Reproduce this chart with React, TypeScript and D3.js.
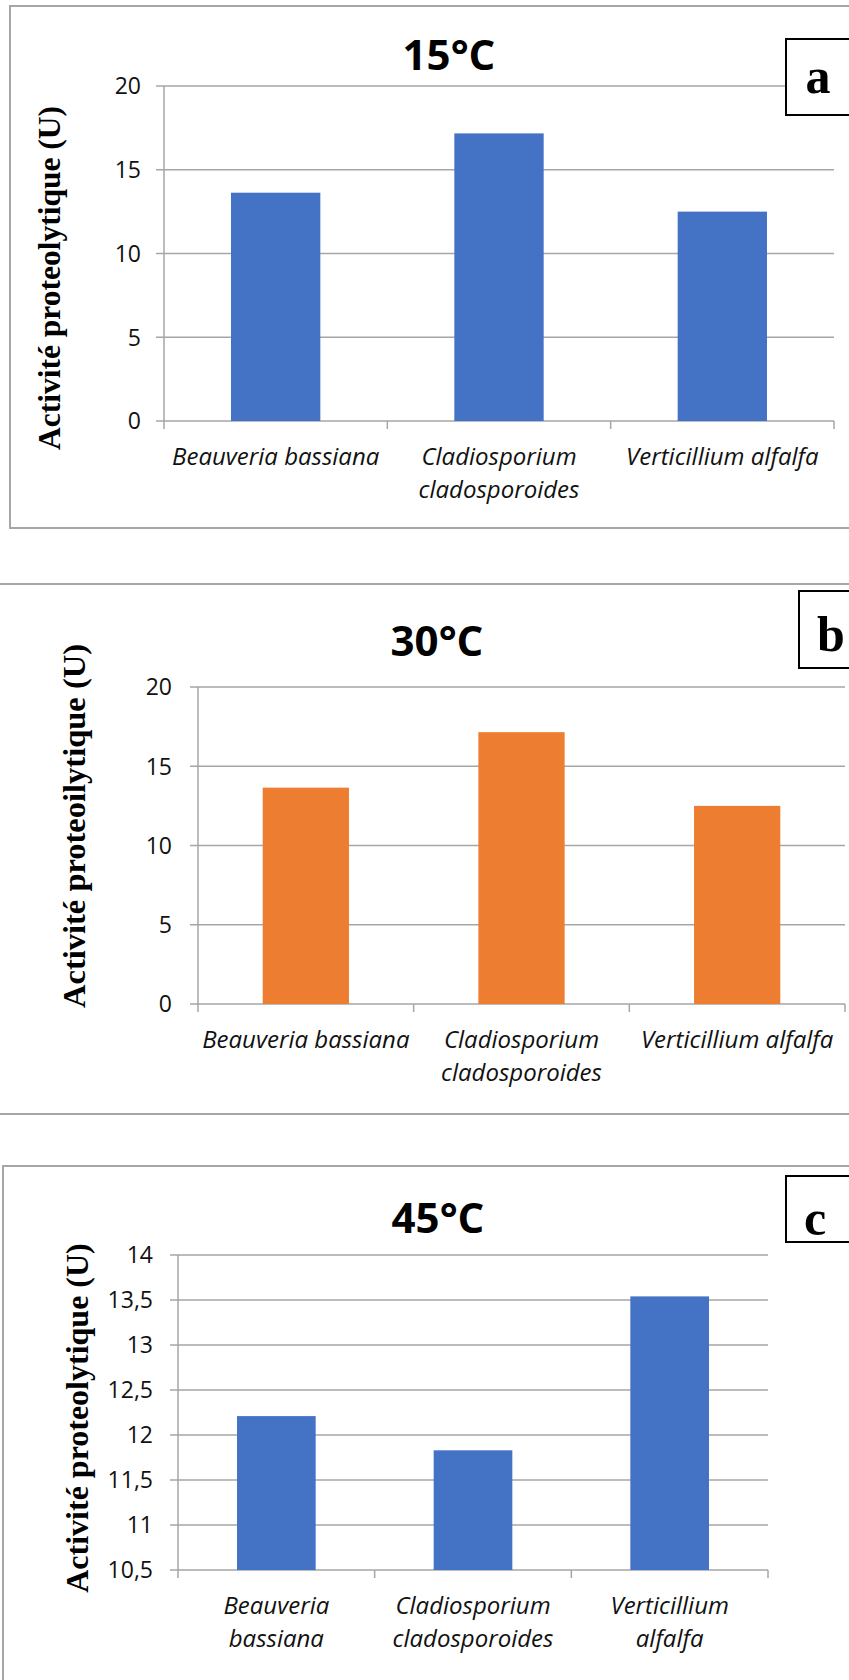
import React from "react";
import * as d3 from "d3";

// species on the x axis (same three fungi in every panel)
const species = ["Beauveria bassiana", "Cladiosporium cladosporoides", "Verticillium alfalfa"];
const linesWide = [["Beauveria bassiana"], ["Cladiosporium", "cladosporoides"], ["Verticillium alfalfa"]];
const linesNarrow = [["Beauveria", "bassiana"], ["Cladiosporium", "cladosporoides"], ["Verticillium", "alfalfa"]];

// proteolytic activity (U)
const activity15 = [13.63, 17.17, 12.5];
const activity30 = [13.65, 17.15, 12.5];
const activity45 = [12.21, 11.83, 13.54];

const ticks15 = [0, 5, 10, 15, 20];
const ticks30 = [0, 5, 10, 15, 20];
const ticks45 = [10.5, 11, 11.5, 12, 12.5, 13, 13.5, 14];

const titles = ["15°C", "30°C", "45°C"];
const tags = ["a", "b", "c"];
const yTitles = ["Activité proteolytique (U)", "Activité proteoilytique (U)", "Activité proteolytique (U)"];

const fr = d3.formatLocale({ decimal: ",", thousands: "\u00a0", grouping: [3], currency: ["", " €"] }).format("");

const GRID = "#a6a6a6";
const SANS = "'Open Sans', 'Noto Sans', sans-serif";
const SERIF = "'Liberation Serif', 'DejaVu Serif', serif";

const panels = [
  {
    values: activity15, ticks: ticks15, lines: linesWide, title: titles[0], tag: tags[0], yTitle: yTitles[0],
    color: "#4472c4",
    frame: { x: 10, y: 6, w: 860, h: 522 },
    plot: { left: 164, right: 834, top: 86, bottom: 421 },
    tickGap: 23,
    titleX: 449, titleY: 70,
    yTitleX: 60, yTitleY: 278, yTitleSize: 31.5,
    tagBox: { x: 786, y: 39, h: 76 }, tagX: 818, tagY: 93,
  },
  {
    values: activity30, ticks: ticks30, lines: linesWide, title: titles[1], tag: tags[1], yTitle: yTitles[1],
    color: "#ed7d31",
    frame: { x: -10, y: 584, w: 880, h: 530 },
    plot: { left: 198, right: 845, top: 687, bottom: 1004 },
    tickGap: 26,
    titleX: 437, titleY: 656,
    yTitleX: 85, yTitleY: 826, yTitleSize: 32.5,
    tagBox: { x: 799, y: 591, h: 77 }, tagX: 831, tagY: 651,
  },
  {
    values: activity45, ticks: ticks45, lines: linesNarrow, title: titles[2], tag: tags[2], yTitle: yTitles[2],
    color: "#4472c4",
    frame: { x: 3, y: 1166, w: 870, h: 600 },
    plot: { left: 178, right: 768, top: 1255, bottom: 1570 },
    tickGap: 25,
    titleX: 438, titleY: 1233,
    yTitleX: 88, yTitleY: 1418, yTitleSize: 32,
    tagBox: { x: 786, y: 1176, h: 66 }, tagX: 815, tagY: 1235,
  },
];

type PanelProps = (typeof panels)[number];

function Panel(p: PanelProps) {
  const { plot } = p;
  const x = d3.scaleBand().domain(species).range([plot.left, plot.right]).paddingInner(0.6).paddingOuter(0.3);
  const y = d3
    .scaleLinear()
    .domain([p.ticks[0], p.ticks[p.ticks.length - 1]])
    .range([plot.bottom, plot.top]);
  const step = x.step();
  const bounds = d3.range(species.length + 1).map((i) => plot.left + i * step);

  return (
    <g>
      {/* panel frame */}
      <rect x={p.frame.x} y={p.frame.y} width={p.frame.w} height={p.frame.h} fill="none" stroke={GRID} strokeWidth={2} />

      {/* gridlines + y ticks */}
      {p.ticks.map((t) => (
        <g key={t}>
          <line x1={plot.left - 8} x2={plot.right} y1={y(t)} y2={y(t)} stroke={GRID} strokeWidth={1.5} />
          <text x={plot.left - p.tickGap} y={y(t)} dy="0.36em" textAnchor="end" fontFamily={SANS} fontSize={23} fill="#111">
            {fr(t)}
          </text>
        </g>
      ))}

      {/* axes */}
      <line x1={plot.left} x2={plot.left} y1={plot.top} y2={plot.bottom} stroke={GRID} strokeWidth={1.5} />
      {bounds.map((b, i) => (
        <line key={i} x1={b} x2={b} y1={plot.bottom} y2={plot.bottom + 8} stroke={GRID} strokeWidth={1.5} />
      ))}

      {/* bars */}
      {species.map((s, i) => (
        <rect
          key={s}
          x={x(s)}
          y={y(p.values[i])}
          width={x.bandwidth()}
          height={y(p.ticks[0]) - y(p.values[i])}
          fill={p.color}
        />
      ))}

      {/* category labels */}
      {species.map((s, i) => (
        <text key={s} x={(x(s) || 0) + x.bandwidth() / 2} textAnchor="middle" fontFamily={SANS} fontStyle="italic" fontSize={24} fill="#111">
          {p.lines[i].map((ln, j) => (
            <tspan key={j} x={(x(s) || 0) + x.bandwidth() / 2} y={plot.bottom + 44 + j * 33}>
              {ln}
            </tspan>
          ))}
        </text>
      ))}

      {/* title */}
      <text x={p.titleX} y={p.titleY} textAnchor="middle" fontFamily={SANS} fontWeight="bold" fontSize={42} fill="#000">
        {p.title}
      </text>

      {/* y title */}
      <text
        transform={`translate(${p.yTitleX},${p.yTitleY}) rotate(-90)`}
        textAnchor="middle"
        fontFamily={SERIF}
        fontWeight="bold"
        fontSize={p.yTitleSize}
        fill="#000"
      >
        {p.yTitle}
      </text>

      {/* panel tag */}
      <rect x={p.tagBox.x} y={p.tagBox.y} width={120} height={p.tagBox.h} fill="#fff" stroke="#000" strokeWidth={2} />
      <text x={p.tagX} y={p.tagY} textAnchor="middle" fontFamily={SERIF} fontWeight="bold" fontSize={50} fill="#000">
        {p.tag}
      </text>
    </g>
  );
}

export default function App() {
  return (
    <svg
      width={849}
      height={1680}
      style={{ position: "absolute", left: 0, top: 0, background: "#fff", display: "block" }}
    >
      {panels.map((p, i) => (
        <Panel key={i} {...p} />
      ))}
    </svg>
  );
}
